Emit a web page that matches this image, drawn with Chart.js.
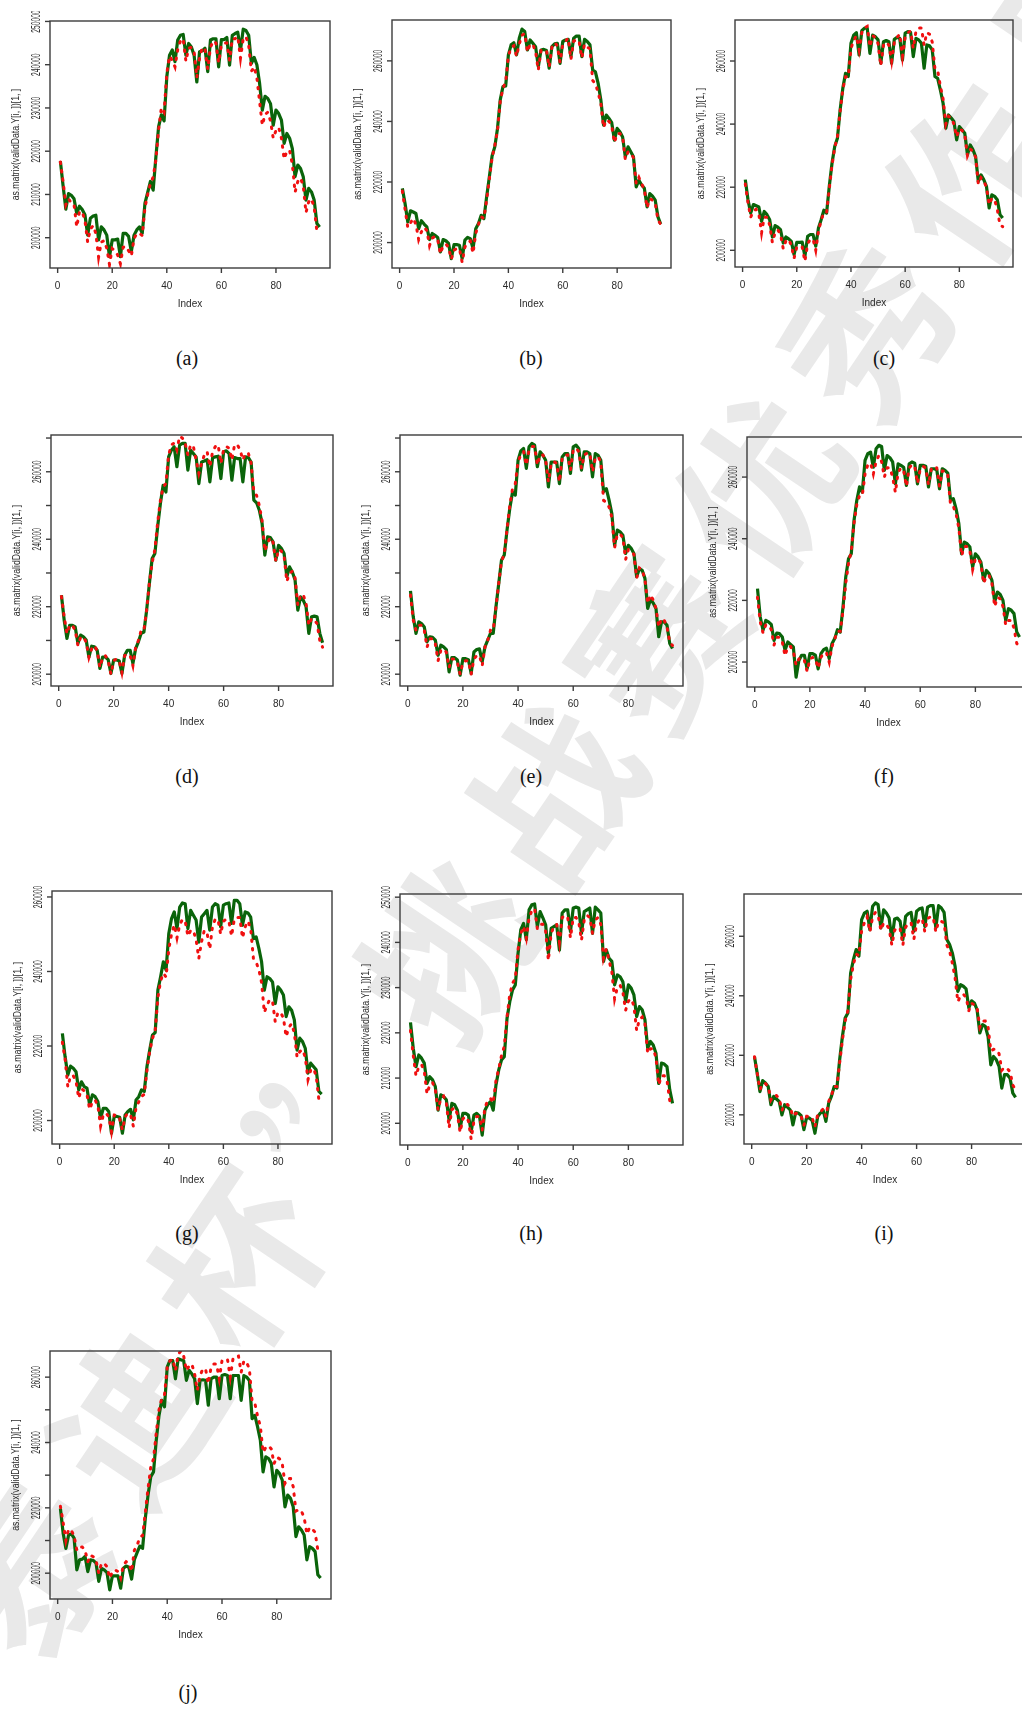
<!DOCTYPE html>
<html><head><meta charset="utf-8">
<script src="https://cdn.jsdelivr.net/npm/chart.js@4.4.1/dist/chart.umd.min.js"></script>
<style>
html,body{margin:0;padding:0;background:#fff;overflow:hidden;}
#page{position:relative;width:1022px;height:1711px;overflow:hidden;background:#fff;}
.panel{position:absolute;z-index:2;}
.lab{position:absolute;z-index:3;font-family:"Liberation Serif","Times New Roman",serif;font-size:20px;color:#111;transform:translate(-50%,-50%);white-space:nowrap;}
#wm{position:absolute;z-index:1;left:552px;top:782px;transform:translate(-50%,-50%) rotate(-56deg);font-family:"Noto Sans CJK SC",sans-serif;font-weight:700;font-size:165px;letter-spacing:22px;color:#e9e9e9;white-space:nowrap;}
</style></head>
<body><div id="page"><div id="wm">泰迪杯”挑战赛优秀作品</div></div>
<script>
// ---------------- data (values in thousands) ----------------
const INDEX = [1,2,3,4,5,6,7,8,9,10,11,12,13,14,15,16,17,18,19,20,21,22,23,24,25,26,27,28,29,30,31,32,33,34,35,36,37,38,39,40,41,42,43,44,45,46,47,48,49,50,51,52,53,54,55,56,57,58,59,60,61,62,63,64,65,66,67,68,69,70,71,72,73,74,75,76,77,78,79,80,81,82,83,84,85,86,87,88,89,90,91,92,93,94,95,96];
const XTICKS = [0,20,40,60,80];
const XTICK_LABELS = ['0','20','40','60','80'];
const YTICKS_A = [200,210,220,230,240,250];
const YLABELS_A = ['200000','210000','220000','230000','240000','250000'];
const YTICKS_20 = [200,220,240,260];
const YLABELS_20 = ['200000','220000','240000','260000'];
const YTICKS_10 = [200,210,220,230,240,250,260,270];
const YLABELS_10 = ['200000','','220000','','240000','','260000',''];
const PANEL_LABELS = ['(a)','(b)','(c)','(d)','(e)','(f)','(g)','(h)','(i)','(j)'];
const Y_TITLE = 'as.matrix(validData.Y[i, ])[1, ]';
const X_TITLE = 'Index';

const ACT_A = [217.7,212,206.6,210.2,209.8,209,205.6,207.3,206.5,205.3,
200.6,204.5,205,205.2,199.5,202.5,201.8,200.6,195.6,199.5,
199.5,199.7,195.6,201,201,200.3,196.8,200.6,201.8,202.5,
201,208,210.5,213,211,218.7,225.7,228.4,227,237.2,
242.2,243.4,240.7,245.7,246.8,247,242.2,244.9,244.1,242.2,
236,243,243.2,243.8,238.4,245.7,246,246,239.5,245.8,
245.8,246.3,239.9,246.8,247.2,247.5,243.4,248.2,247.9,246.8,
240.3,241.7,240,235.7,229.5,232.7,232.2,231,226,229.5,
228.7,227.2,221.8,224.1,223,220.6,214.1,216.8,216,214.1,
208.7,211.4,210.6,208.7,203.3,202.5];
const PRED_A = [217.5,213,207.6,209,208,207.7,202.5,206,206,204,
199,202,202.8,201,195.5,199,199.3,197.6,193.8,197.5,
197,196,194,197.8,198,197,195.8,199.8,201,201,
200.5,207,210,212.5,214,218,225,230,229,238,
242,241,239.5,243.5,245.5,246,240.8,243.8,244,243,
237,241.5,244,243.5,239,244,245.5,245,240.5,244.5,
245,245,241,246,246,246.5,241.5,246,246.5,244.5,
238.5,239.5,237,231.5,226,228.5,229,227,223,224.8,
225.5,223,218.2,220,220.2,217,210.5,213,213.8,212,
205.8,208.3,209,207,201.5,201];

const ACT_B = [217.9,212.9,206.8,210.5,210.1,209.6,204.6,207.2,206.1,205.2,
201,203,202.4,201.7,196.9,201,200.6,199.7,194.7,199.3,
199.3,199.1,194.7,200.8,201.7,201.3,198,204.6,206.3,209,
207.9,215.1,221.7,228.6,231.6,237.7,247.1,251.5,251.7,262,
265.3,266,262,267.5,270.5,269.7,263.6,266.9,265.8,264.7,
258.1,263.6,263.8,263.4,257.6,264.7,265.6,265.8,259.2,266.4,
266.9,267.1,261.4,267.5,268.2,268.2,261.4,267.1,266.4,265.3,
257,256.4,252.6,247.1,238.8,242.1,241,239.6,233.8,237.7,
236.6,234.9,228.3,231.6,230,228.3,218.4,220.6,219,217.9,
211.8,216.2,215.3,214,208.5,206.1];
const PRED_B = [217,211,205,206.5,208,206,201,203.5,205,204,
199,201.5,202,201,196.3,199,199.5,198.5,194.5,197.5,
198,198,193.5,198.5,200,200.5,196.5,203,206,208.5,
208,214,221,228,232,237,246.5,251,253,261.5,
264.5,265,261.5,265.5,268.5,269,263,265.5,265.5,263,
257,263.5,263.5,263.5,258,264.5,266,265,259.5,265.5,
266.5,267.5,260.5,266.5,267,266.5,261,265.5,264.5,264,
253.5,252.5,249.5,246,238,240.5,240,238.5,233,236,
236,235,227.5,230,229.5,228,219.5,221.5,219.5,217.5,
211.5,214.5,214,213,207.5,206];

const ACT_C = [222.4,216,211.8,214.5,214.1,213.7,209.2,212.3,211.3,209.7,
204.2,207.8,207.3,206.5,202.3,204.2,203.6,202.8,198.6,202.5,
202.5,202.6,198.1,204.4,205,205,201.3,207.1,209.7,212.7,
211.8,220.3,227.6,232.9,235.5,244.5,251.4,256.1,255.1,265.6,
268.2,269,261.9,269.6,270.4,270.4,262.4,268.2,267.7,266.7,
259.3,266.1,266.5,266.1,259.3,266.9,267.5,267.2,260.3,268.8,
269.3,269.1,261.4,267.2,266.7,265.6,257.7,265.1,264.8,263.5,
255.1,254.5,250.8,246.6,238.7,242.9,241.9,240.8,235,239.2,
238.2,237.1,230.3,233.4,231.9,229.7,221.8,223.9,222.4,220.3,
213.4,217.6,217.1,216,211.3,210.2];
const PRED_C = [221,215,210.5,212.5,213,211.5,205.5,210.5,210.5,208,
202.5,205.5,206.5,205,200.5,203,203.5,201.5,197.5,201,
201.5,201,196.5,202,203.5,203.5,200,206,209.5,212,
212,219.5,227,232.5,236,244,251,255,255,264,
266.5,268,263.5,269,270.5,271,264.5,268,267.5,265.5,
258.5,265,266,265,260,266,267.5,268.5,261.5,267.5,
269,269.5,264,269.5,270.5,270.5,265,269,268.5,266,
257.5,257,252,248,240,242.5,242,240,236,238.5,
238,236.5,230,232,231.5,229.5,221,223,222,220,
214.5,216.5,216,213,208,207.5];

const ACT_D = [223.4,216,210.6,214.5,214.5,214,209.1,211.6,211.1,210.1,
205.1,208.3,208.1,207.1,201.7,205.1,205.1,204.3,200.2,204.2,
204.2,204,200.2,205.6,207.1,207.1,203.2,207.6,209.6,212.1,
212.5,219,226.9,234.3,235.8,243.7,250.6,256,254,264.4,
266.4,267.4,261.5,267.9,268.4,268.4,260.5,266.4,265.4,264.4,
256.5,262.9,263.2,263.6,257,264.2,264.4,264.6,258,265.9,
266.2,265.4,257.5,264.2,263.9,263.9,257,264.4,264.2,262.9,
251.6,250.8,248.6,244.7,235.3,240.7,240.5,239.2,233.8,238.2,
237.3,235.8,228.9,231.8,230.3,227.9,219,222.9,221.9,220,
212.1,217,217.2,217,212.1,209.3];
const PRED_D = [223,217,212,214.5,214.5,213,208.5,211,211,209.5,
205,207.5,208.5,207,202,205,205.5,204,200,204,
204.5,204,200.5,205.5,206,205.5,202.5,208,210,213,
213,219,227,233,237,245,251.5,255.5,256.5,265,
268,268.5,266.5,270.5,270,268.5,265,268,267.5,263.5,
259.5,262.5,265,266,261.5,266,267.5,268,262.5,266.5,
267.5,267,263.5,268,268,266.5,263.5,265.5,265.5,262.5,
254,253,250,245.5,236.5,239,240.5,239,233.5,237,
236.5,235,227.5,230,230.5,228.5,220.5,223.5,223.5,221,
214.5,216.5,216,215,210,208];

const ACT_E = [224.7,217,212.1,215.5,215,214,209.6,211.1,210.9,210.1,
205.6,208.6,208.1,207.3,200.7,204.9,204.9,204.2,199.7,204.6,
204.6,204.3,200.2,206.6,207.3,207.5,203.7,208.1,210.1,212.1,
212.1,220,226.9,233.8,235.3,242.7,249.1,254,253.1,263.4,
266.2,266.9,261,267.4,268.4,267.9,261.5,265.9,264.9,263.4,
255.5,262.9,262.9,262.9,256.5,264.4,265.4,265.4,259.5,267.4,
267.9,266.9,260.5,265.9,265.9,265.4,258.5,265.4,264.9,263.4,
254.1,255,251.6,247.6,238.2,242.7,242.2,241.2,235.8,238.2,
237.3,235.8,228.9,231.3,230.8,228.4,219.5,222.1,221.1,219.5,
211.1,215.5,215.5,214.5,209.1,207.6];
const PRED_E = [223.5,216,213,214.5,214.5,213,208,210.5,210.5,209,
204,207,207.5,206.5,202,204.5,204.5,203.5,200,203.5,
204,204,200,204.5,205.5,205.5,202.5,208,210,213,
213,220,227,233.5,235.5,243,250,255,256.5,263,
265,266,262,266.5,267.5,267.5,262,265,265,263.5,
257,262.5,263,262.5,257,264,265,265,260.5,266.5,
267,266,261,265,265.5,265.5,260,264,264.5,263,
251.5,251,249.5,246.5,237.5,241.5,241.5,240.5,234,237,
236.5,235.5,228.5,231.5,231,228,221,223.5,222,219.5,
214,216.5,216,214,209.5,208.5];

const ACT_F = [223.8,214.6,210.3,213.5,213,212.2,207,209.4,209.2,208.1,
203.8,206.5,205.7,204.9,195.1,200.5,202.2,202.2,197.8,202.7,
202.7,202.2,197.8,202.7,204,204.5,201.1,205.9,207.6,210.5,
209.7,217.8,227.6,233.5,235.1,245.9,252.4,256.8,255.1,265.4,
267.6,268.1,263.2,269.2,270.3,269.9,262.2,267,266.3,264.9,
257.8,264.3,263.8,263.2,257.3,264.3,264.9,264.5,257.8,263.8,
263.8,263.5,256.8,262.7,262.7,262.4,256.2,262.7,262.2,261.3,
252.4,253,249.7,244.9,235.1,238.9,238.4,237.3,230.8,235.1,
234.1,232.4,226.5,229.7,228.6,226.5,219.5,222.7,221.9,220,
213.5,217.3,216.8,215.7,209.7,208.1];
const PRED_F = [221,213,209.5,212,212,210.5,205.5,208,208,206.5,
202,205,205,203.5,199,201,201.5,200.5,197,201,
201.5,201,198,201.5,203,203,200,205,207.5,210,
210,216.5,225.5,232,236,245,251,254,254,261,
264,264.5,261,265,267,265,260,263,263,260,
255,261.5,263,262,257,263,264,263.5,258,262.5,
263.5,263,257.5,262.5,263.5,263,257,262,262,260.5,
251,250.5,248,243.5,234.5,237.5,237.5,236,230,233.5,
233.5,232,225.5,228,228,225.5,218,221,220.5,218,
212,213.5,213.5,211,206,205];

const ACT_G = [223.4,217.1,212.2,214.6,214,213.1,208.2,210.4,209.1,208.7,
204.2,206.9,206.4,205.1,200.6,203.3,203.3,202.4,196.6,201.1,
201.1,200.9,196.6,201.5,202.4,203,200.2,205.5,206.4,208.2,
207.8,214.5,218.9,222.9,223.6,235,238.6,242.6,240.4,250.2,
254.2,256,251.5,257.3,258.4,258.2,251.5,256.4,255.1,253.8,
247.9,254.6,255.5,256.4,251.1,257.3,258.2,257.8,252,257.8,
258.2,258.4,252.9,259.1,259.1,258.2,252.4,256,255.7,254.6,
248.8,249.3,246.2,242.6,235,238.6,238.1,237.2,231.4,235.9,
235,233.7,227.9,230.5,229.6,227,218.9,222.1,221.2,219.4,
212.7,215.4,214.5,213.6,207.8,207.1];
const PRED_G = [221,216.5,209,212,212,210.5,206,208.5,208,207,
203,205,205.5,204,198.5,201.5,202,201,197,201.5,
201.5,200.5,197.5,201,202,201.5,198.5,203.5,205,206.5,
207,213.5,218.5,222,224,233,237.5,239.5,238.5,246,
250,252.5,249,252.5,254,253.5,249.5,251,251,248.5,
243.5,248,251,250.5,246,252,254,254,250,253.5,
254,253.5,249.5,254,254.5,254.5,249,252,253.5,251.5,
243.5,242.5,240.5,237,229,231,232.5,232,226.5,229,
229,227.5,222.5,225,226,223.5,217,218.5,219,217,
211,213.5,214,212,205.5,204.5];

const ACT_H = [222.3,216.6,212.5,215.1,214.4,213.3,208.8,210.3,209.6,208.1,
202.9,206.3,205.9,205.2,200.7,204.4,204.1,202.9,198.9,202.2,
202.2,201.8,198.2,201.8,202.2,201.6,197.4,202.9,204.1,204.8,
202.9,208.5,211.8,214,214.7,223.2,226.9,229.5,230.6,237.6,
242.8,244.2,240.6,247.2,248.3,248.5,243.5,246.8,245.4,243.9,
237.6,243.1,243.5,243.9,238.3,246.5,247.2,247.2,242.4,247.6,
247.8,247.6,242,246.8,247.2,247.6,242,247.8,247.2,246.5,
235.8,238.3,236.5,235.8,230.6,232.8,232.4,231.3,226.9,230.6,
229.9,228.4,223.6,225.8,225.1,222.9,216.6,218.1,217.3,215.5,
208.8,213.3,213.1,212.5,207.4,204.4];
const PRED_H = [220.5,215,210.5,212.5,213,211.5,206.5,208.5,209,207.5,
203,205.5,206,204.5,199,203,203.5,202,198,201,
201.5,200.5,196.5,200.5,201.5,201.5,198.5,203.5,205,205.5,
204.5,209.5,212,215,217,223.5,228.5,231,232,238.5,
242,243.5,241,245.5,247,247.5,243,244,244,242.5,
236,242,243.5,244,240,245.5,246,245.5,241,245.5,
245.5,244.5,240.5,245,246,245.5,242,245,245.5,244,
236.5,238.5,236,233.5,227.5,230,230.5,229,225,227,
227.5,226,220.5,223,223.5,222,215.5,216.5,216.5,214.5,
208.5,210.5,210.5,209.5,205,204.5];

const ACT_I = [219.6,214,207.8,211.5,210.7,209.5,203.4,206.2,205.3,204.5,
200,203.4,202.6,201.7,196.6,200.8,200.6,199.7,195,199.2,
198.9,198.1,193.8,199.4,200.6,201.5,197.8,203.9,206.2,209.5,
209,218.5,226.3,232.5,234.2,247.6,252.1,255.5,253.3,265.6,
267.8,268.4,262.2,270.1,271.2,270.6,262.8,268.9,267.8,266.1,
258.9,265.8,266.1,265,258.9,266.7,267.6,268,261.7,268.4,
269.2,269.5,263.3,269.8,270.3,270.3,262.8,270.3,269.5,268,
258.9,257.2,254.4,249.9,241.5,243.7,243.2,242.3,235.9,238.3,
237.6,235.3,227.5,230.3,229.7,226.3,216.8,219.6,218.5,216.3,
209,213.5,213.5,212.3,207.3,205.9];
const PRED_I = [219.5,214,208.5,210.5,210.5,209.5,205,206.5,206.5,205.5,
201.5,203.5,203.5,202.5,199.5,200.5,200.5,199.5,196.5,199.5,
199.5,199,196,200,201,202,199.5,204.5,206.5,209.5,
209.5,217.5,225,231.5,235,245.5,250.5,254,253.5,262,
264.5,266.5,261.5,266.5,268,267,262,264.5,264,262.5,
257,262,263,262.5,257,263,264.5,264.5,259,264,
265.5,266,261.5,266,266.5,266.5,261.5,265,265,264.5,
257,255,251,246,238,240,240.5,239.5,235,237.5,
237,236,229.5,231.5,231.5,229.5,221.5,222,222,220.5,
215,216,215.5,214.5,210,208.5];

const ACT_J = [219.8,212.2,207.6,211.7,212,210.7,201,204.1,204.3,205.1,
200.5,204.1,203.9,203.1,197.5,201.5,201,200.2,194.9,199.2,
199.2,199.2,195.4,201.5,202.2,201.8,198.2,204.1,206.3,208.3,
207.6,216.8,223.9,229.5,231,240.7,248.3,252.9,250.9,263.1,
265.1,265.1,259.5,265.6,265.3,265.1,259,262.1,261,259.5,
251.9,259,259.2,259,251.4,259.5,260,260,253.4,260.5,
260.8,260.5,253.4,260.5,260.5,260.5,252.9,260.5,260,259,
247.3,248.3,244.8,240.7,231,235.6,235.1,233.6,226.4,231.5,
230.5,228.5,220.3,223.9,222.9,220.3,211.2,214.2,213.2,211.7,
204.1,208.1,207.6,206.6,199.5,198.5];
const PRED_J = [220.5,215.5,210,213.5,213,211.5,207,208,208,207,
203.5,205.5,205,204,200,203,203,202,198.5,200.5,
201,200.5,198.5,202.5,203.5,203,200.5,207,208.5,211,
211.5,218.5,226,232.5,235,243,250,253.5,254.5,263,
265,265.5,262,267,268,266.5,262,263.5,264,261,
256,260.5,262.5,262.5,258,263,264,264,259.5,265,
265.5,265.5,260,265.5,266.5,266.5,261.5,265,264.5,262.5,
252.5,252,248,245,237,238.5,239,238,233.5,235.5,
235,233.5,227.5,229,229,226.5,219,219.5,219,217,
212,214,213.5,212.5,207,206.5];

// ---------------- layout ----------------
const PAD = {left:50, right:10, top:10, bottom:50};
const PANELS = [
  {act:ACT_A, pred:PRED_A, ymin:193.0, ymax:250.1, yt:YTICKS_A,  yl:YLABELS_A,  box:[50,21,330,268],   lab:[187,358]},
  {act:ACT_B, pred:PRED_B, ymin:191.6, ymax:273.5, yt:YTICKS_20, yl:YLABELS_20, box:[392,20,671,268],  lab:[531,358]},
  {act:ACT_C, pred:PRED_C, ymin:194.7, ymax:273.0, yt:YTICKS_20, yl:YLABELS_20, box:[735,20,1013,267], lab:[884,358]},
  {act:ACT_D, pred:PRED_D, ymin:196.5, ymax:270.9, yt:YTICKS_10, yl:YLABELS_10, box:[51,435,333,686],  lab:[187,776]},
  {act:ACT_E, pred:PRED_E, ymin:196.5, ymax:270.9, yt:YTICKS_10, yl:YLABELS_10, box:[400,435,683,686], lab:[531,776]},
  {act:ACT_F, pred:PRED_F, ymin:191.9, ymax:273.0, yt:YTICKS_20, yl:YLABELS_20, box:[747,437,1030,687],lab:[884,776]},
  {act:ACT_G, pred:PRED_G, ymin:193.7, ymax:261.6, yt:YTICKS_20, yl:YLABELS_20, box:[52,891,332,1144], lab:[187,1233]},
  {act:ACT_H, pred:PRED_H, ymin:195.2, ymax:250.7, yt:YTICKS_A,  yl:YLABELS_A,  box:[400,894,683,1145],lab:[531,1233]},
  {act:ACT_I, pred:PRED_I, ymin:190.2, ymax:274.2, yt:YTICKS_20, yl:YLABELS_20, box:[744,894,1026,1144],lab:[884,1233]},
  {act:ACT_J, pred:PRED_J, ymin:192.1, ymax:268.0, yt:YTICKS_10, yl:YLABELS_10, box:[50,1351,331,1599], lab:[188,1692]}
];

const rplot = {
  id:'rplot',
  afterDraw(chart, args, o){
    const ctx = chart.ctx, a = chart.chartArea, xs = chart.scales.x, ys = chart.scales.y;
    ctx.save();
    ctx.strokeStyle = '#3c3c3c'; ctx.lineWidth = 1.4;
    ctx.strokeRect(a.left, a.top, a.right - a.left, a.bottom - a.top);
    ctx.fillStyle = '#2a2a2a';
    ctx.textAlign = 'center'; ctx.textBaseline = 'middle';
    ctx.font = '10px "Liberation Sans", Arial, sans-serif';
    XTICKS.forEach((v, k) => {
      const px = xs.getPixelForValue(v);
      ctx.beginPath(); ctx.moveTo(px, a.bottom); ctx.lineTo(px, a.bottom + 5); ctx.stroke();
      ctx.fillText(XTICK_LABELS[k], px, a.bottom + 18);
    });
    ctx.fillText(X_TITLE, (a.left + a.right) / 2, a.bottom + 36);
    ctx.font = '12px "Liberation Sans", Arial, sans-serif';
    o.yt.forEach((v, k) => {
      if (v < ys.min || v > ys.max) return;
      const py = ys.getPixelForValue(v);
      ctx.beginPath(); ctx.moveTo(a.left - 5, py); ctx.lineTo(a.left, py); ctx.stroke();
      if (o.yl[k]) {
        ctx.save(); ctx.translate(a.left - 13, py); ctx.rotate(-Math.PI / 2); ctx.scale(0.56, 1);
        ctx.fillText(o.yl[k], 0, 0); ctx.restore();
      }
    });
    ctx.font = '11px "Liberation Sans", Arial, sans-serif';
    ctx.save(); ctx.translate(a.left - 34, (a.top + a.bottom) / 2); ctx.rotate(-Math.PI / 2); ctx.scale(0.79, 1);
    ctx.fillText(Y_TITLE, 0, 0); ctx.restore();
    ctx.restore();
  }
};

const page = document.getElementById('page');
PANELS.forEach((p, n) => {
  const [l, t, r, b] = p.box;
  const w = r - l + PAD.left + PAD.right, h = b - t + PAD.top + PAD.bottom;
  const div = document.createElement('div');
  div.className = 'panel';
  div.style.left = (l - PAD.left) + 'px'; div.style.top = (t - PAD.top) + 'px';
  div.style.width = w + 'px'; div.style.height = h + 'px';
  const cv = document.createElement('canvas');
  cv.width = w; cv.height = h; cv.style.width = w + 'px'; cv.style.height = h + 'px';
  div.appendChild(cv); page.appendChild(div);
  const lab = document.createElement('div');
  lab.className = 'lab'; lab.textContent = PANEL_LABELS[n];
  lab.style.left = p.lab[0] + 'px'; lab.style.top = p.lab[1] + 'px';
  page.appendChild(lab);
  new Chart(cv, {
    type: 'line',
    data: { datasets: [
      { data: INDEX.map((x, k) => ({x: x, y: p.act[k]})), borderColor: '#0a640a', borderWidth: 3.2,
        pointRadius: 0, tension: 0, order: 2, borderJoinStyle: 'round' },
      { data: INDEX.map((x, k) => ({x: x, y: p.pred[k]})), borderColor: '#f01010', borderWidth: 3,
        borderDash: [1.5, 7], borderCapStyle: 'round', pointRadius: 0, tension: 0, order: 1 }
    ]},
    options: {
      responsive: false, animation: false, devicePixelRatio: 1, events: [],
      layout: { padding: PAD },
      plugins: { legend: {display: false}, tooltip: {enabled: false}, rplot: {yt: p.yt, yl: p.yl} },
      scales: {
        x: { type: 'linear', display: false, min: -2.8, max: 99.8 },
        y: { type: 'linear', display: false, min: p.ymin, max: p.ymax }
      }
    },
    plugins: [rplot]
  });
});
</script>
</body></html>
